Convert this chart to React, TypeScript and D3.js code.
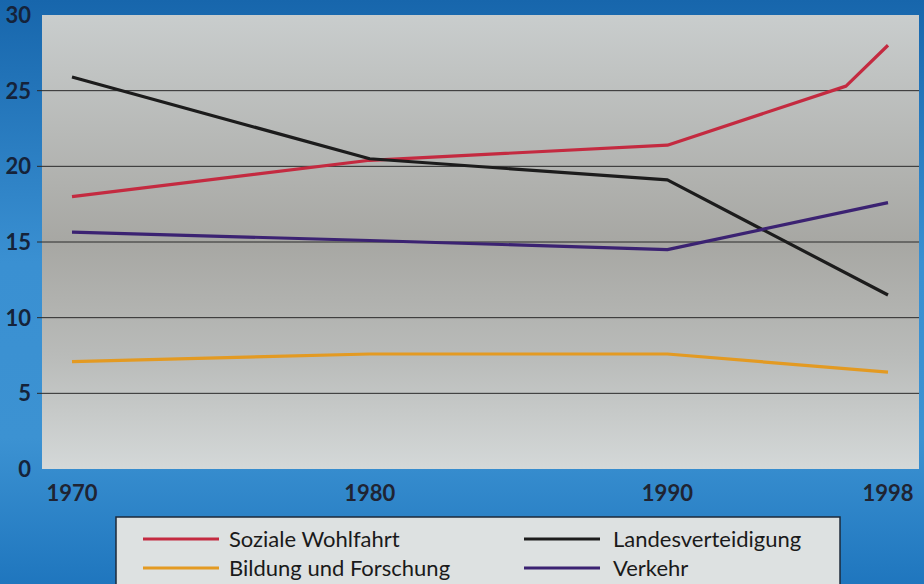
import * as d3 from "d3";

const years = [1970, 1980, 1990, 1996, 1998];
const soziale = [18.0, 20.4, 21.4, 25.3, 28.0];
const landes = [25.9, 20.5, 19.1, null, 11.5];
const bildung = [7.1, 7.6, 7.6, null, 6.4];
const verkehr = [15.65, 15.1, 14.5, null, 17.6];
const yTicks = [0, 5, 10, 15, 20, 25, 30];
const xTicks = [1970, 1980, 1990, 1998];

const series = [
  { name: "Soziale Wohlfahrt", values: soziale, color: "#c42a40" },
  { name: "Bildung und Forschung", values: bildung, color: "#e39a22" },
  { name: "Landesverteidigung", values: landes, color: "#1c1c1c" },
  { name: "Verkehr", values: verkehr, color: "#3b2272" },
];

const W = 924;
const H = 584;
const plot = { left: 42, top: 15, right: 919, bottom: 469 };

export default function App() {
  const x = d3.scaleLinear().domain([1970, 1996, 1998]).range([72, 846, 888]);
  const y = d3.scaleLinear().domain([0, 30]).range([plot.bottom, plot.top]);

  const line = d3
    .line<[number, number | null]>()
    .defined((d) => d[1] != null)
    .x((d) => x(d[0]))
    .y((d) => y(d[1] as number));

  const legendPos = [
    { x: 143, y: 539 },
    { x: 143, y: 568 },
    { x: 524, y: 539 },
    { x: 524, y: 568 },
  ];

  return (
    <svg
      width={W}
      height={H}
      style={{ position: "absolute", left: 0, top: 0, display: "block" }}
    >
      <defs>
        <linearGradient id="bg" x1="0" y1="0" x2="0" y2="1">
          <stop offset="0" stopColor="#1766ac" />
          <stop offset="0.45" stopColor="#3a90d2" />
          <stop offset="0.75" stopColor="#3c92d2" />
          <stop offset="1" stopColor="#1f76be" />
        </linearGradient>
        <linearGradient id="plotbg" x1="0" y1="0" x2="0" y2="1">
          <stop offset="0" stopColor="#c9cdcd" />
          <stop offset="0.5" stopColor="#a7a7a3" />
          <stop offset="0.75" stopColor="#b9bbb9" />
          <stop offset="1" stopColor="#d4d8d8" />
        </linearGradient>
      </defs>
      <rect x={0} y={0} width={W} height={H} fill="url(#bg)" />
      <rect
        x={plot.left}
        y={plot.top}
        width={plot.right - plot.left}
        height={plot.bottom - plot.top}
        fill="url(#plotbg)"
      />

      {yTicks.map((t) => (
        <g key={t}>
          {t > 0 && t < 30 && (
            <line
              x1={37}
              x2={plot.right}
              y1={y(t)}
              y2={y(t)}
              stroke="#2a2a2a"
              strokeWidth={1}
            />
          )}
          <text
            x={31}
            y={y(t)}
            dy="0.36em"
            textAnchor="end"
            fontFamily="Lato, 'Open Sans', sans-serif"
            fontWeight="bold"
            fontSize={22}
            fill="#15233a"
          >
            {t}
          </text>
        </g>
      ))}

      {xTicks.map((t) => (
        <text
          key={t}
          x={x(t)}
          y={501}
          textAnchor="middle"
          fontFamily="Lato, 'Open Sans', sans-serif"
          fontWeight="bold"
          fontSize={22}
          fill="#1f2433"
        >
          {t}
        </text>
      ))}

      {series.map((s) => (
        <path
          key={s.name}
          d={line(years.map((yr, i) => [yr, s.values[i]])
            .filter((d) => d[1] != null) as [number, number][]) || ""}
          fill="none"
          stroke={s.color}
          strokeWidth={3.2}
          strokeLinejoin="round"
        />
      ))}

      <rect
        x={116}
        y={517}
        width={724}
        height={80}
        fill="#dde1e1"
        stroke="#1c2a3a"
        strokeWidth={1.5}
      />
      {series.map((s, i) => (
        <g key={s.name}>
          <line
            x1={legendPos[i].x}
            x2={legendPos[i].x + 76}
            y1={legendPos[i].y}
            y2={legendPos[i].y}
            stroke={s.color}
            strokeWidth={3.2}
          />
          <text
            x={legendPos[i].x + (i < 2 ? 86 : 89)}
            y={legendPos[i].y}
            dy="0.35em"
            fontFamily="Lato, 'Open Sans', sans-serif"
            fontSize={22}
            fill="#1a1a1a"
          >
            {s.name}
          </text>
        </g>
      ))}
    </svg>
  );
}
